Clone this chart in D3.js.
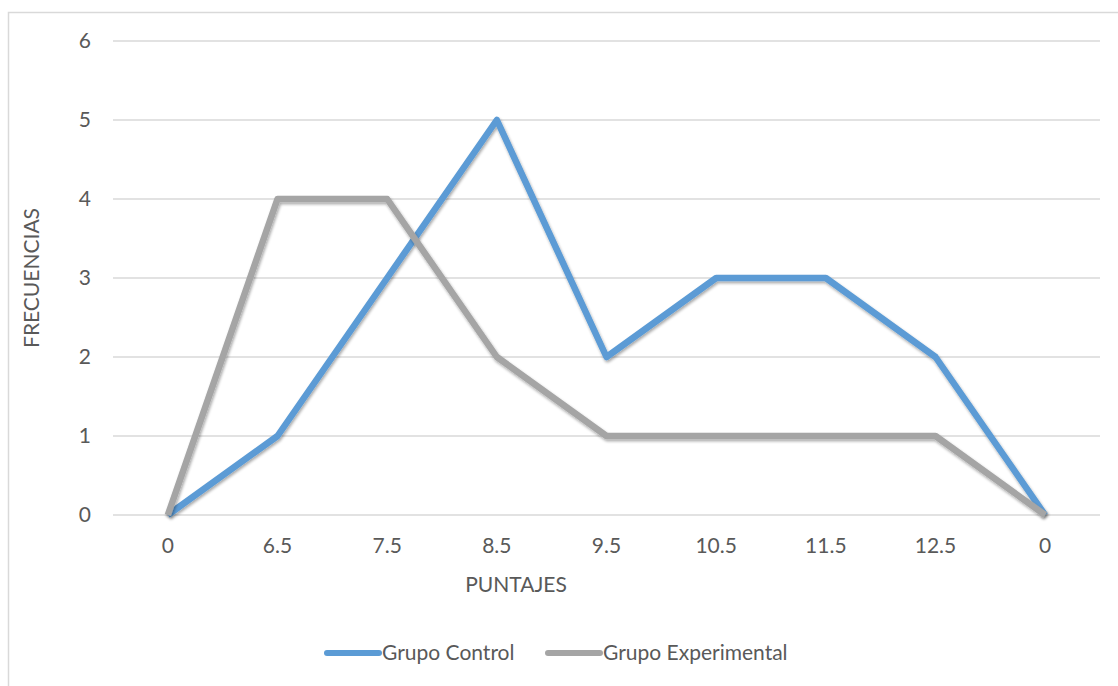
<!DOCTYPE html>
<html><head><meta charset="utf-8">
<script src="https://cdn.jsdelivr.net/npm/d3@7"></script>
<style>body{margin:0;background:#fff;} svg{display:block;} text{font-family:Lato,"Open Sans",sans-serif;fill:#595959;}</style>
</head><body>
<svg id="c" width="1118" height="686"></svg>
<script>
const categories = ["0","6.5","7.5","8.5","9.5","10.5","11.5","12.5","0"];
const grupoControl = [0,1,3,5,2,3,3,2,0];
const grupoExperimental = [0,4,4,2,1,1,1,1,0];
const yTicks = [0,1,2,3,4,5,6];
const seriesNames = ["Grupo Control","Grupo Experimental"];
const colors = ["#5B9BD5","#A5A5A5"];

(function(){
const svg = d3.select("#c");
svg.append("rect").attr("x",8.5).attr("y",12.5).attr("width",1120).attr("height",700)
  .attr("fill","none").attr("stroke","#d9d9d9").attr("stroke-width",1.5);

const pLeft=113, pRight=1100, pTop=41, pBottom=515;
const x = d3.scaleBand().domain(d3.range(categories.length)).range([pLeft,pRight]);
const y = d3.scaleLinear().domain([0,6]).range([pBottom,pTop]);

svg.append("g").selectAll("line").data(yTicks).join("line")
  .attr("x1",pLeft).attr("x2",pRight).attr("y1",d=>y(d)).attr("y2",d=>y(d))
  .attr("stroke","#d9d9d9").attr("stroke-width",1.5);

svg.append("g").selectAll("text").data(yTicks).join("text")
  .attr("x",91).attr("y",d=>y(d)).attr("dy","0.35em").attr("text-anchor","end")
  .attr("font-size",21).text(d=>d);

svg.append("g").selectAll("text").data(categories).join("text")
  .attr("x",(d,i)=>x(i)+x.bandwidth()/2).attr("y",553).attr("text-anchor","middle")
  .attr("font-size",21).text(d=>d);

svg.append("text").attr("transform","translate(39,278) rotate(-90)").attr("text-anchor","middle")
  .attr("font-size",21).text("FRECUENCIAS");
svg.append("text").attr("x",516).attr("y",592).attr("text-anchor","middle")
  .attr("font-size",21).text("PUNTAJES");

const line = d3.line().x((d,i)=>x(i)+x.bandwidth()/2).y(d=>y(d));
const defs = svg.append("defs");
defs.append("filter").attr("id","sh").attr("x","-10%").attr("y","-10%").attr("width","120%").attr("height","120%")
  .html('<feGaussianBlur in="SourceAlpha" stdDeviation="1.5"/><feOffset dx="1" dy="1.5" result="b"/><feComponentTransfer><feFuncA type="linear" slope="0.35"/></feComponentTransfer><feMerge><feMergeNode/><feMergeNode in="SourceGraphic"/></feMerge>');

[grupoControl, grupoExperimental].forEach((s,k)=>{
  svg.append("path").datum(s).attr("d",line).attr("fill","none")
    .attr("stroke",colors[k]).attr("stroke-width",6.5).attr("stroke-linejoin","round")
    .attr("filter","url(#sh)");
});

const legX = [327,548];
seriesNames.forEach((n,k)=>{
  svg.append("line").attr("x1",legX[k]).attr("x2",legX[k]+52).attr("y1",653).attr("y2",653)
    .attr("stroke",colors[k]).attr("stroke-width",6).attr("stroke-linecap","round");
  svg.append("text").attr("x",legX[k]+55).attr("y",653).attr("dy","0.35em").attr("font-size",21).text(n);
});
})();
</script>
</body></html>
